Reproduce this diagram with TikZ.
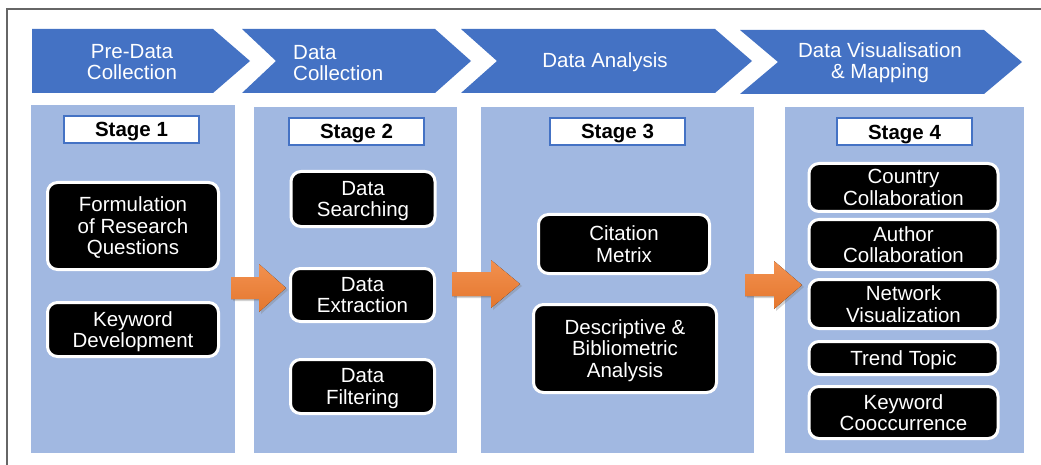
\documentclass[tikz,border=0pt]{standalone}
\usepackage{fontspec}
\setmainfont{Liberation Sans}
\usetikzlibrary{shadows}
\definecolor{chevblue}{RGB}{68,114,196}
\definecolor{panelblue}{RGB}{161,184,225}
\definecolor{arroworange}{RGB}{240,125,48}
\tikzset{
  chevtext/.style={text=white, align=center, inner sep=0pt, font=\fontsize{20.5}{21}\selectfont},
  stagebox/.style={draw=chevblue, line width=2pt, fill=white, minimum width=135pt, minimum height=27pt, inner sep=0pt, text depth=0pt, font=\fontsize{20.5}{21}\bfseries\selectfont},
  procbox/.style={draw=white, line width=3pt, fill=black, rounded corners=10pt, text=white, align=center, inner sep=0pt, text depth=0pt, font=\fontsize{20.5}{21.5}\selectfont},
  blockarrow/.style={top color=arroworange!85!white, bottom color=arroworange!95!black, drop shadow={shadow xshift=2pt, shadow yshift=-2pt, opacity=0.35}}
}
\begin{document}
\begin{tikzpicture}[x=1pt,y=-1pt]
  \useasboundingbox (0,0) rectangle (1041,465);
  \fill[white] (0,0) rectangle (1041,465);
  \draw[black!60, line width=1.5pt] (7,465) -- (7,9) -- (1041,9);
  % header chevrons
  \fill[chevblue] (32,29) -- (213,29) -- (250,61) -- (213,93) -- (32,93) -- cycle;
  \fill[chevblue] (242,29) -- (435,29) -- (471,61) -- (435,93) -- (242,93) -- (276,61) -- cycle;
  \fill[chevblue] (461,29) -- (715,29) -- (752,61) -- (715,93) -- (461,93) -- (497,61) -- cycle;
  \fill[chevblue] (740,30) -- (984,30) -- (1022,62) -- (984,94) -- (740,94) -- (778,62) -- cycle;
  \node[chevtext] (pre) at (132,62) {Pre-Data\\Collection};
  \node[chevtext, align=left, anchor=west] (coll) at (293,63) {Data\\Collection};
  \node[chevtext] (anal) at (605,62) {Data Analysis};
  \node[chevtext] (vis) at (880,63) {Data Visualisation\\\& Mapping};
  % stage panels
  \fill[panelblue] (31,105) rectangle (235,453);
  \fill[panelblue] (254,107) rectangle (457,453);
  \fill[panelblue] (481,107) rectangle (754,453);
  \fill[panelblue] (785,107) rectangle (1024,453);
  \node[stagebox] (s1) at (131.5,129.5) {Stage 1};
  \node[stagebox] (s2) at (356.5,131.5) {Stage 2};
  \node[stagebox] (s3) at (617.5,131.5) {Stage 3};
  \node[stagebox] (s4) at (904.5,132) {Stage 4};
  % stage 1
  \node[procbox, minimum width=171pt, minimum height=87pt] (form) at (133,226) {Formulation\\of Research\\Questions};
  \node[procbox, minimum width=171pt, minimum height=54pt] (kwdev) at (133,329.5) {Keyword\\Development};
  % stage 2
  \node[procbox, minimum width=144pt, minimum height=55pt] (search) at (363,199) {Data\\Searching};
  \node[procbox, minimum width=144pt, minimum height=53pt] (extract) at (362.5,295) {Data\\Extraction};
  \node[procbox, minimum width=144pt, minimum height=54pt] (filter) at (362.5,386.5) {Data\\Filtering};
  % stage 3
  \node[procbox, minimum width=171pt, minimum height=59pt] (cite) at (624,244) {Citation\\Metrix};
  \node[procbox, minimum width=183pt, minimum height=88pt] (descr) at (625,348.5) {Descriptive \&\\Bibliometric\\Analysis};
  % stage 4
  \node[procbox, minimum width=189pt, minimum height=48pt] (country) at (903.5,187.5) {Country\\Collaboration};
  \node[procbox, minimum width=189pt, minimum height=50pt] (author) at (903.5,244.5) {Author\\Collaboration};
  \node[procbox, minimum width=189pt, minimum height=49pt] (network) at (903.5,304) {Network\\Visualization};
  \node[procbox, minimum width=189pt, minimum height=33pt] (trend) at (903.5,358) {Trend Topic};
  \node[procbox, minimum width=189pt, minimum height=52pt] (cooc) at (903.5,412.5) {Keyword\\Cooccurrence};
  % orange arrows
  \foreach \xa/\xh/\xt/\yc/\sw in {231/259/286/288/11, 452/491/520/284/12, 745/774/802/285/11}
    \fill[blockarrow] (\xa,\yc-\sw) -- (\xh,\yc-\sw) -- (\xh,\yc-24) -- (\xt,\yc)
      -- (\xh,\yc+24) -- (\xh,\yc+\sw) -- (\xa,\yc+\sw) -- cycle;
\end{tikzpicture}
\end{document}
